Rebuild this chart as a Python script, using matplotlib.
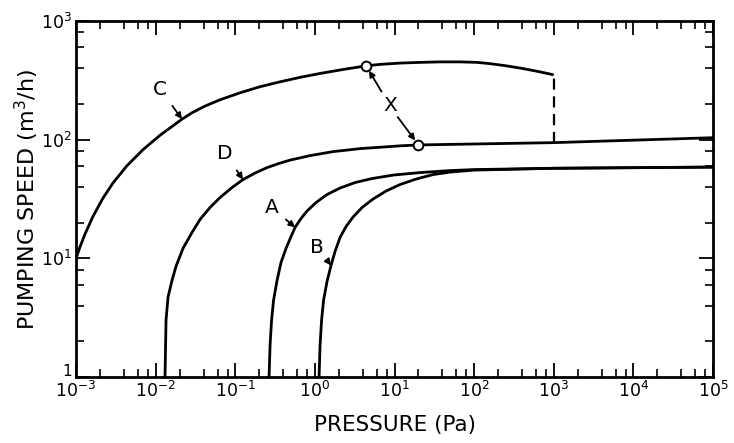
import matplotlib
matplotlib.use("Agg")
import matplotlib.pyplot as plt
from matplotlib.ticker import LogLocator, FixedLocator, NullFormatter
from matplotlib.transforms import ScaledTranslation

# ---- data ----
C_x = [1e-3, 0.001123, 0.001297, 0.001636, 0.002184, 0.002917, 0.004371, 0.006946,
       0.01136, 0.02147, 0.02867, 0.04174, 0.06443, 0.1149, 0.2049, 0.3654, 0.6518,
       1.162, 2.395, 4.398, 6.595, 11.76, 20.97, 37.4, 66.7, 109.1, 158.9, 245.1,
       378.4, 618.6, 1000]
C_y = [10, 12.47, 16.0, 22.6, 32.2, 43.2, 60.4, 82.4,
       108.9, 149, 168.6, 192.0, 216.8, 248.3, 279.4, 307.3, 335.1,
       361.4, 392.8, 418.7, 431, 442, 448, 452.3, 452.3, 448, 436.9, 420.3,
       401.2, 377.1, 351.8]

D_x = [0.01312, 0.01351, 0.01431, 0.01607, 0.01804, 0.02210, 0.02867, 0.03613,
       0.04825, 0.06443, 0.09117, 0.1253, 0.1773, 0.2509, 0.3654, 0.4880, 0.8707,
       1.693, 3.698, 11.76, 20.0, 1000, 1e5]
D_y = [1, 3.013, 4.701, 6.534, 8.566, 12.14, 16.54, 21.27,
       26.83, 32.56, 39.51, 46.12, 52.31, 58.17, 63.47, 67.25, 73.37,
       79.29, 84.04, 88.70, 90.27, 94.4, 103.9]

A_x = [0.2659, 0.2737, 0.2859, 0.3029, 0.3352, 0.3761, 0.4346, 0.5024, 0.5638,
       0.6709, 0.7981, 1.035, 1.423, 2.073, 3.200, 5.231, 9.603, 20.97, 49.95,
       100, 1000, 1e5]
A_y = [1, 1.857, 3.013, 4.437, 6.534, 9.254, 12.14, 15.30, 18.22,
       21.68, 25.07, 29.55, 34.50, 39.13, 43.52, 47.02, 50.30, 52.80, 54.88,
       55.96, 57.39, 58.74]

B_x = [1.129, 1.162, 1.214, 1.286, 1.423, 1.597, 1.794, 2.073, 2.466, 3.020,
       3.917, 5.384, 7.844, 11.76, 18.68, 30.54, 49.95, 100, 1000, 1e5]
B_y = [1, 1.857, 3.013, 4.437, 6.409, 8.734, 11.45, 15.02, 18.57, 22.32,
       26.83, 31.62, 36.92, 41.87, 46.57, 50.80, 53.32, 55.41, 57.39, 58.74]

# transition at 10^3 Pa (dashed) and the two X points
jump_x = [1000, 1000]
jump_y = [94.4, 351.8]
X_x = [4.398, 20.0]
X_y = [418.7, 90.27]

x_ticks = [1e-3, 1e-2, 1e-1, 1e0, 1e1, 1e2, 1e3, 1e4, 1e5]
x_ticklabels = [r'$10^{-3}$', r'$10^{-2}$', r'$10^{-1}$', r'$10^{0}$', r'$10^{1}$',
                r'$10^{2}$', r'$10^{3}$', r'$10^{4}$', r'$10^{5}$']
y_ticks = [1, 10, 100, 1000]
y_ticklabels = ['1', r'$10^{1}$', r'$10^{2}$', r'$10^{3}$']

plt.rcParams['mathtext.fontset'] = 'dejavusans'
plt.rcParams['font.family'] = ['DejaVu Sans']

fig = plt.figure(figsize=(7.34, 4.43), dpi=100)
ax = fig.add_axes([76/734, 66/443, 637/734, 356/443])

lw = 2.0
for xs, ys in [(C_x, C_y), (D_x, D_y), (A_x, A_y), (B_x, B_y)]:
    ax.plot(xs, ys, color='black', lw=lw, solid_capstyle='butt', solid_joinstyle='round')
ax.plot(jump_x, jump_y, color='black', lw=1.6, ls=(0, (5, 3)))
ax.plot(X_x, X_y, ls='none', marker='o', ms=7, mfc='white', mec='black', mew=1.4, zorder=5)

ax.set_xscale('log')
ax.set_yscale('log')
ax.set_xlim(1e-3, 1e5)
ax.set_ylim(1, 1e3)

ax.xaxis.set_major_locator(FixedLocator(x_ticks))
ax.set_xticklabels(x_ticklabels)
ax.yaxis.set_major_locator(FixedLocator(y_ticks))
ax.set_yticklabels(y_ticklabels)
ax.xaxis.set_minor_locator(LogLocator(base=10, subs=[2, 4, 6, 8], numticks=20))
ax.yaxis.set_minor_locator(LogLocator(base=10, subs=[2, 4, 6, 8], numticks=20))
ax.xaxis.set_minor_formatter(NullFormatter())
ax.yaxis.set_minor_formatter(NullFormatter())

ax.tick_params(which='both', direction='in', top=True, right=True, color='black')
ax.tick_params(which='major', length=10, width=1.3, labelsize=12.5, pad=3)
ax.tick_params(which='minor', length=6, width=1.2)
for s in ax.spines.values():
    s.set_linewidth(2.0)

# nudge the "1" on the y axis up, as in the reference
ylab0 = ax.get_yticklabels()[0]
ylab0.set_transform(ylab0.get_transform() + ScaledTranslation(0, 5/72, fig.dpi_scale_trans))
ylab0.set_fontsize(11)

ax.set_xlabel('PRESSURE (Pa)', fontsize=15.5, labelpad=10)
ax.set_ylabel('PUMPING SPEED (m$^3$/h)', fontsize=16, labelpad=0)

arrow = dict(arrowstyle='-|>', color='black', lw=1.3, shrinkA=4, shrinkB=0,
             mutation_scale=9)

def label(txt, x, y, dx, dy):
    ax.annotate(txt, xy=(x, y), xytext=(dx, dy), textcoords='offset pixels',
                fontsize=14.5, ha='center', va='center', arrowprops=arrow)

label('C', C_x[9], C_y[9], -22, 30)
label('D', D_x[11], D_y[11], -18, 26)
label('A', A_x[8], A_y[8], -23, 20)
label('B', B_x[5], B_y[5], -14, 18)

xarrow = dict(arrowstyle='-|>', color='black', lw=1.3, shrinkA=12, shrinkB=4,
              mutation_scale=9, patchA=None)
ax.annotate('X', xy=(X_x[0], X_y[0]), xytext=(24, -40), textcoords='offset pixels',
            fontsize=14.5, ha='center', va='center', arrowprops=xarrow)
ax.annotate('', xy=(X_x[1], X_y[1]), xytext=(-29, 39), textcoords='offset pixels',
            arrowprops=dict(xarrow, shrinkA=10))

fig.savefig('out.png', dpi=100)
